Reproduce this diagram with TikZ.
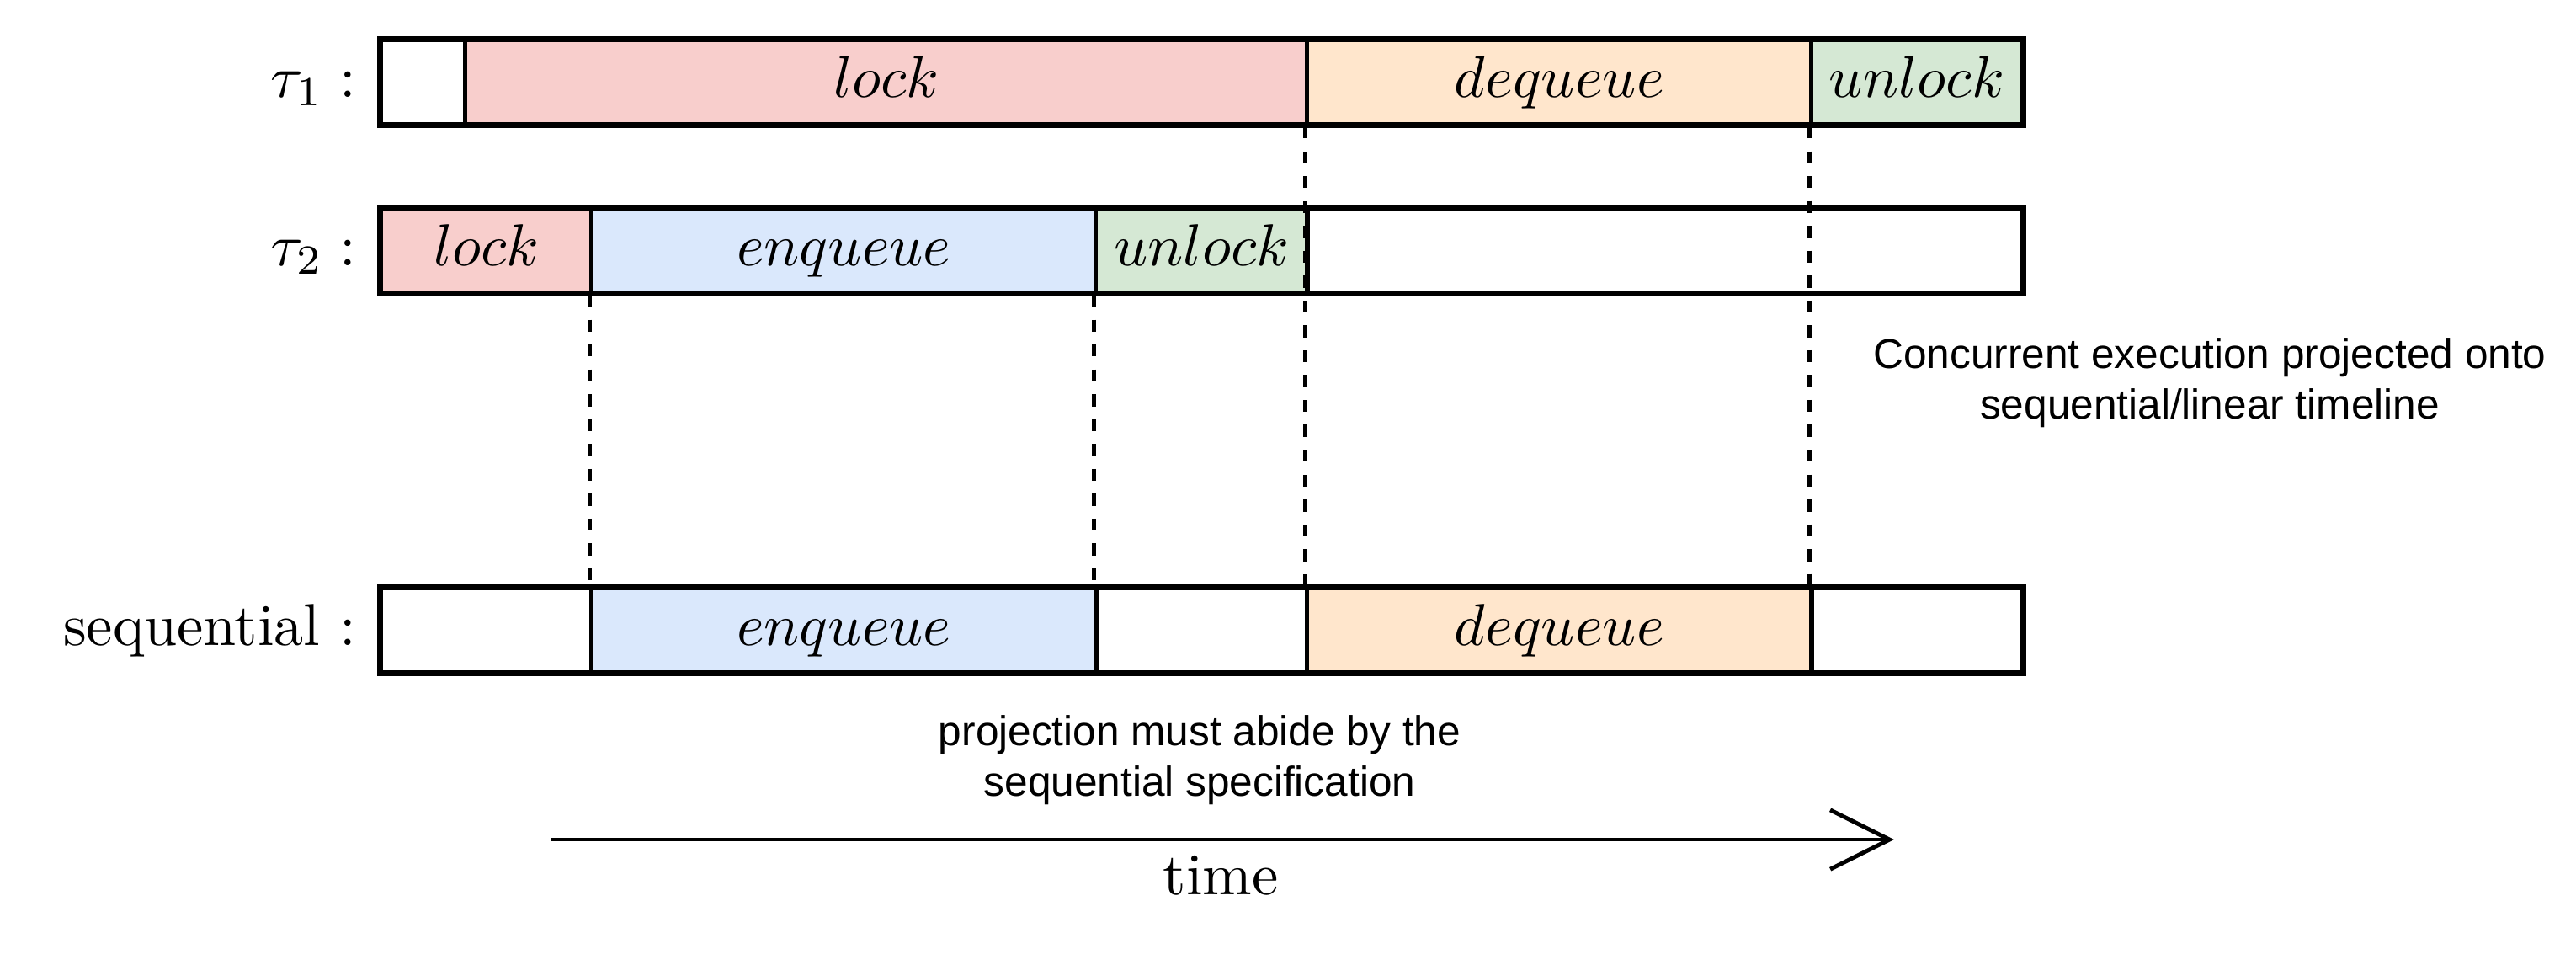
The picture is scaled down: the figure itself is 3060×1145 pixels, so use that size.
\RequirePackage{fix-cm}
\documentclass[tikz,border=0pt]{standalone}
\usepackage{fontspec}
\newfontfamily\sansf{Liberation Sans}
\usetikzlibrary{arrows.meta}
\definecolor{lockc}{HTML}{F8CECC}
\definecolor{enqc}{HTML}{DAE8FC}
\definecolor{deqc}{HTML}{FFE6CC}
\definecolor{unlc}{HTML}{D5E8D4}
\newcommand{\dbl}[1]{\scalebox{2}{\fontsize{10}{12}\selectfont #1}}
\begin{document}
\begin{tikzpicture}[x=0.01cm,y=-0.01cm,
  seg/.style={draw, line width=1.4pt, inner sep=0pt, minimum height=1cm,
    text height=13.9pt, text depth=3.9pt},
  rowlabel/.style={anchor=east, inner sep=0pt, text height=13.9pt, text depth=3.9pt},
  outerbox/.style={draw, line width=1.4pt},
  dashline/.style={line width=1.3pt, dash pattern=on 4.1pt off 4.3pt},
  note/.style={align=center, font=\sansf\fontsize{14.1}{17}\selectfont, inner sep=0pt}
]
\useasboundingbox (0,0) rectangle (3060,1145);

% row 1
\node[seg, minimum width=1cm] (r1a) at (502.5,97.5) {};
\node[seg, fill=lockc, minimum width=10.01cm] (r1b) at (1053,97.5) {\dbl{$lock$}};
\node[seg, fill=deqc, minimum width=5.99cm] (r1c) at (1852.5,97.5) {\dbl{$dequeue$}};
\node[seg, fill=unlc, minimum width=2.5cm] (r1d) at (2277,97.5) {\dbl{$unlock$}};
\draw[outerbox] (r1a.north west) rectangle (r1d.south east);
\node[rowlabel] (l1) at (424,97.5) {\dbl{$\tau_1:$}};

% row 2
\node[seg, fill=lockc, minimum width=2.5cm] (r2a) at (578,297.5) {\dbl{$lock$}};
\node[seg, fill=enqc, minimum width=5.99cm] (r2b) at (1002.5,297.5) {\dbl{$enqueue$}};
\node[seg, fill=unlc, minimum width=2.51cm] (r2c) at (1427.5,297.5) {\dbl{$unlock$}};
\node[seg, minimum width=8.49cm] (r2d) at (1977.5,297.5) {};
\draw[outerbox] (r2a.north west) rectangle (r2d.south east);
\node[rowlabel] (l2) at (424,297.5) {\dbl{$\tau_2:$}};

% row 3
\node[seg, minimum width=2.5cm] (r3a) at (578,748.5) {};
\node[seg, fill=enqc, minimum width=5.99cm] (r3b) at (1002.5,748.5) {\dbl{$enqueue$}};
\node[seg, minimum width=2.51cm] (r3c) at (1427.5,748.5) {};
\node[seg, fill=deqc, minimum width=5.99cm] (r3d) at (1852.5,748.5) {\dbl{$dequeue$}};
\node[seg, minimum width=2.5cm] (r3e) at (2277,748.5) {};
\draw[outerbox] (r3a.north west) rectangle (r3e.south east);
\node[rowlabel] (l3) at (424,748.5) {\dbl{sequential :}};

% dashed projections
\draw[dashline] (r2b.south west) -- (r3b.north west);
\draw[dashline] (r2c.south west) -- (r3c.north west);
\draw[dashline] (r1c.south west) -- (r3d.north west);
\draw[dashline] (r1d.south west) -- (r3e.north west);

% notes
\node[note] (n1) at (2625,455) {Concurrent execution projected onto\\sequential/linear timeline};
\node[note] (n2) at (1425,903) {projection must abide by the\\sequential specification};

% time arrow
\coordinate (ta) at (654,997);
\coordinate (tb) at (2250,997);
\draw[line width=1.4pt, -{Straight Barb[length=20pt,width=20pt]}] (ta) -- (tb);
\node[anchor=base, inner sep=0pt] (tl) at (1450,1062) {\dbl{time}};
\end{tikzpicture}
\end{document}
